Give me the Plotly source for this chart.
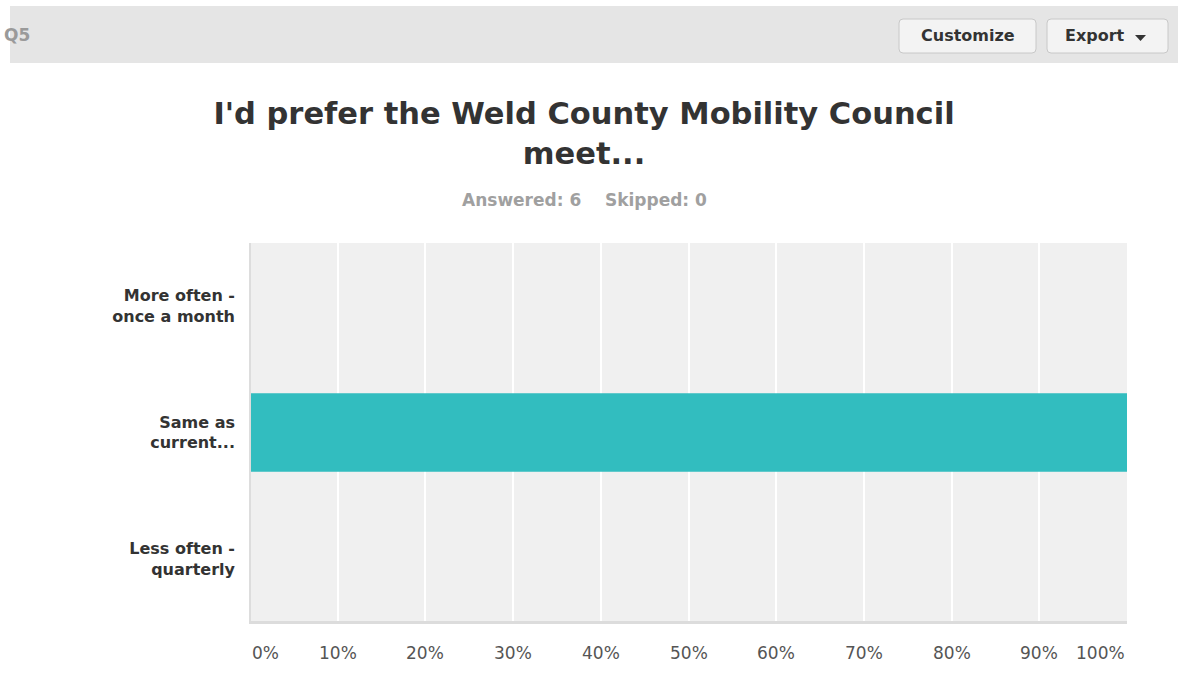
import plotly.graph_objects as go

categories = ["More often -<br>once a month", "Same as<br>current...", "Less often -<br>quarterly"]
values = [0, 100, 0]
tick_vals = [0, 10, 20, 30, 40, 50, 60, 70, 80, 90, 100]
tick_text = ["0%", "10%", "20%", "30%", "40%", "50%", "60%", "70%", "80%", "90%", "100%"]

W, H = 1178, 684
L, R, T, B = 250, 1127, 243, 622
PW, PH = R - L, B - T


def px(x):
    return (x - L) / PW


def py(y):
    return (B - y) / PH


FONT = "DejaVu Sans, Verdana, sans-serif"

fig = go.Figure()
fig.add_trace(go.Bar(
    x=values, y=categories, orientation="h",
    marker=dict(color="#32bdbf", line=dict(width=0)),
    hoverinfo="x+y",
))

shapes = []
annotations = []

# header bar
shapes.append(dict(type="rect", xref="paper", yref="paper",
                   x0=px(10), x1=px(1178), y0=py(63), y1=py(6),
                   fillcolor="#e5e5e5", line=dict(width=0), layer="below"))


def rounded(x0, y0, x1, y1, r=4):
    X0, X1 = px(x0), px(x1)
    Y0, Y1 = py(y0), py(y1)
    rx, ry = r / PW, r / PH
    return (f"M {X0+rx} {Y0} L {X1-rx} {Y0} Q {X1} {Y0} {X1} {Y0-ry} "
            f"L {X1} {Y1+ry} Q {X1} {Y1} {X1-rx} {Y1} L {X0+rx} {Y1} "
            f"Q {X0} {Y1} {X0} {Y1+ry} L {X0} {Y0-ry} Q {X0} {Y0} {X0+rx} {Y0} Z")


for (bx0, bx1) in [(899, 1036), (1047, 1168)]:
    shapes.append(dict(type="path", xref="paper", yref="paper",
                       path=rounded(bx0, 19, bx1, 53),
                       fillcolor="#f3f3f3", line=dict(color="#c8c8c8", width=1)))

# dropdown triangle
shapes.append(dict(type="path", xref="paper", yref="paper",
                   path=f"M {px(1135)} {py(35)} L {px(1146)} {py(35)} L {px(1140.5)} {py(41)} Z",
                   fillcolor="#333333", line=dict(width=0)))

annotations.append(dict(text="<b>Customize</b>", xref="paper", yref="paper",
                        x=px(967.5), y=py(36), xanchor="center", yanchor="middle",
                        showarrow=False, font=dict(family=FONT, size=16, color="#333333")))
annotations.append(dict(text="<b>Export</b>", xref="paper", yref="paper",
                        x=px(1095), y=py(36), xanchor="center", yanchor="middle",
                        showarrow=False, font=dict(family=FONT, size=16, color="#333333")))
annotations.append(dict(text="<b>Q5</b>", xref="paper", yref="paper",
                        x=px(32), y=py(35), xanchor="right", yanchor="middle",
                        showarrow=False, font=dict(family=FONT, size=17, color="#9a9a9a")))

# subtitle
annotations.append(dict(text="<b>Answered: 6&nbsp;&nbsp;&nbsp;&nbsp;Skipped: 0</b>",
                        xref="paper", yref="paper", x=px(584), y=py(200),
                        xanchor="center", yanchor="middle", showarrow=False,
                        font=dict(family=FONT, size=17, color="#a0a0a0")))

# x tick labels (first/last kept inside the plot edges)
for i, (v, t) in enumerate(zip(tick_vals, tick_text)):
    anchor = "left" if i == 0 else ("right" if i == len(tick_vals) - 1 else "center")
    annotations.append(dict(text=t, xref="x", yref="paper", x=v, y=py(653),
                            xanchor=anchor, yanchor="middle", showarrow=False,
                            font=dict(family=FONT, size=17, color="#555555")))

# plot borders
shapes.append(dict(type="line", xref="paper", yref="paper", x0=px(250), x1=px(250),
                   y0=0, y1=1, line=dict(color="#dddddd", width=2)))
shapes.append(dict(type="line", xref="paper", yref="paper", x0=px(249), x1=1,
                   y0=py(622.5), y1=py(622.5), line=dict(color="#dcdcdc", width=3)))

fig.update_layout(
    width=W, height=H,
    margin=dict(l=L, r=W - R, t=T, b=H - B, pad=0),
    paper_bgcolor="#ffffff", plot_bgcolor="#f0f0f0",
    title=dict(text="<b>I'd prefer the Weld County Mobility Council<br>meet...</b>",
               x=px(584), xref="paper", xanchor="center",
               y=1 - 124 / H, yref="container", yanchor="middle",
               font=dict(family=FONT, size=30.5, color="#333333")),
    bargap=0.38,
    showlegend=False,
    shapes=shapes,
    annotations=annotations,
    xaxis=dict(range=[0, 100], tickvals=tick_vals, showticklabels=False,
               showgrid=True, gridcolor="#ffffff", gridwidth=2,
               zeroline=False, showline=False, fixedrange=True),
    yaxis=dict(categoryorder="array", categoryarray=categories, autorange="reversed",
               showgrid=False, zeroline=False, showline=False, ticks="",
               ticklabelstandoff=14,
               tickvals=categories, ticktext=[f"<b>{c}</b>" for c in categories],
               tickfont=dict(family=FONT, size=16, color="#333333"), fixedrange=True),
    font=dict(family=FONT),
)

fig.write_html("out.html", config={"displayModeBar": False},
               post_script="document.body.style.margin='0';document.body.style.padding='0';")
